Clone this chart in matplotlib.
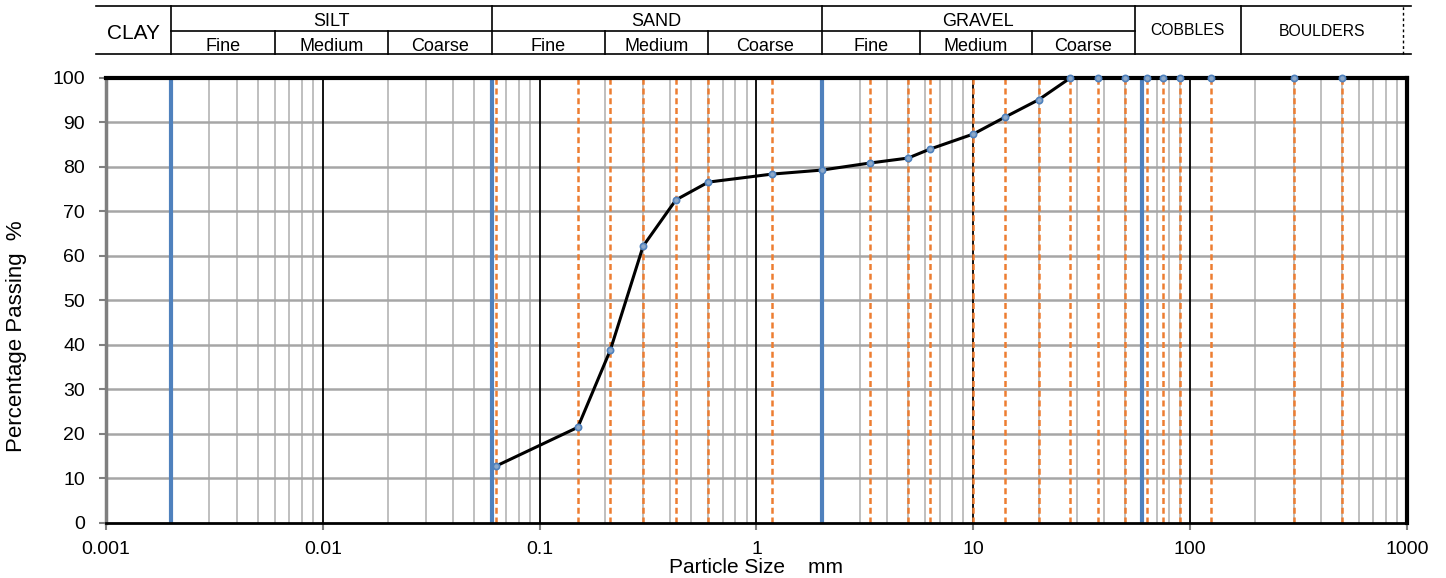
import numpy as np
import matplotlib
matplotlib.use("Agg")
import matplotlib.pyplot as plt
from matplotlib.ticker import FixedLocator, NullFormatter

plt.rcParams["font.family"] = ["Liberation Sans", "DejaVu Sans"]

# tamices (mm) y porcentaje que pasa
sieve = [0.063, 0.15, 0.212, 0.3, 0.425, 0.6, 1.18, 2, 3.35, 5, 6.3, 10, 14, 20,
         28, 37.5, 50, 63, 75, 90, 125, 300, 500]
passing = [12.8, 21.5, 38.9, 62.2, 72.6, 76.6, 78.4, 79.3, 80.9, 82.0, 84.0, 87.4,
           91.2, 95.1, 100, 100, 100, 100, 100, 100, 100, 100, 100]

# limites de clasificacion (lineas azules)
bounds = [0.002, 0.06, 2, 60]
# cabecera: limites tal como aparecen en la tabla
head_main = [0.002, 0.06, 2, 55.6, 171]
head_sub = [0.006, 0.02, 0.2, 0.6, 5.66, 18.6]
main_classes = [("SILT", 0.002, 0.06), ("SAND", 0.06, 2), ("GRAVEL", 2, 55.6)]
sub_names = ["Fine", "Medium", "Coarse"]
xticks = [0.001, 0.01, 0.1, 1, 10, 100, 1000]
xticklabels = ["0.001", "0.01", "0.1", "1", "10", "100", "1000"]

BLUE = "#4F81BD"
ORANGE = "#ED7D31"

fig = plt.figure(figsize=(14.46, 5.78), dpi=100)
ax = fig.add_axes([0.0733, 0.0952, 0.8997, 0.7699])
ax.set_xscale("log")
ax.set_xlim(0.001, 1000)
ax.set_ylim(0, 100)

# rejilla
minor = [m * 10.0**e for e in range(-3, 3) for m in range(2, 10)]
for v in minor:
    ax.axvline(v, color="#BFBFBF", lw=1.4, zorder=1)
for v in xticks[1:-1]:
    ax.axvline(v, color="black", lw=1.3, zorder=1.5)
for v in range(10, 100, 10):
    ax.axhline(v, color="#A6A6A6", lw=1.8, zorder=1.2)

for s in sieve:
    ax.axvline(s, color=ORANGE, lw=1.8, ls=(0, (2.4, 1.5)), zorder=2)
for b in bounds:
    ax.axvline(b, color=BLUE, lw=3, zorder=3)

ax.plot(sieve, passing, color="black", lw=2.2, zorder=6, clip_on=False,
        marker="o", ms=4.5, mfc="#8EA9C9", mec=BLUE, mew=1.2)

ax.xaxis.set_major_locator(FixedLocator(xticks))
ax.set_xticklabels(xticklabels)
ax.xaxis.set_minor_formatter(NullFormatter())
ax.tick_params(axis="x", which="minor", length=0)
ax.set_yticks(range(0, 101, 10))
ax.tick_params(axis="both", which="major", labelsize=14, length=5,
               width=1.5, color="#808080", direction="out")
ax.tick_params(axis="x", which="major", pad=8)
ax.tick_params(axis="y", which="major", pad=10)

for side in ["top", "right"]:
    ax.spines[side].set_linewidth(3)
    ax.spines[side].set_color("black")
ax.spines["bottom"].set_linewidth(2)
ax.spines["bottom"].set_color("black")
ax.spines["left"].set_linewidth(2.5)
ax.spines["left"].set_color("#7F7F7F")
for sp in ax.spines.values():
    sp.set_zorder(5)

ax.set_ylabel("Percentage Passing  %", fontsize=16)
ax.yaxis.set_label_coords(-0.0607, 0.419)
ax.set_xlabel("Particle Size    mm", fontsize=15)
ax.xaxis.set_label_coords(0.5, -0.0787)

# cabecera de clasificacion
hx = fig.add_axes([0.0733, 0.9066, 0.8997, 0.083])
hx.set_xscale("log")
hx.set_xlim(0.001, 1000)
hx.set_ylim(0, 1)
hx.axis("off")
left_edge, right_edge = 0.0009, 1045
kw = dict(color="black", lw=1.2, clip_on=False)
hx.plot([left_edge, right_edge], [1, 1], **kw)
hx.plot([left_edge, right_edge], [0, 0], **kw)
hx.plot([0.002, 55.6], [0.485, 0.485], **kw)
for b in head_main:
    hx.plot([b, b], [0, 1], **kw)
for b in head_sub:
    hx.plot([b, b], [0, 0.485], **kw)
hx.plot([962, 962], [0, 1], color="black", lw=1, ls=(0, (2, 2)), clip_on=False)

gmean = lambda a, b: np.sqrt(a * b)
hx.text(gmean(left_edge, 0.002), 0.42, "CLAY", ha="center", va="center", fontsize=15)
for name, a, b in main_classes:
    hx.text(gmean(a, b), 0.68, name, ha="center", va="center", fontsize=13)
    edges = [a] + [s for s in head_sub if a < s < b] + [b]
    for i, sub in enumerate(sub_names):
        hx.text(gmean(edges[i], edges[i + 1]), 0.15, sub, ha="center",
                va="center", fontsize=13)
hx.text(gmean(55.6, 171), 0.49, "COBBLES", ha="center", va="center", fontsize=11.3)
hx.text(gmean(171, 962), 0.47, "BOULDERS", ha="center", va="center", fontsize=11.3)

fig.savefig("out.png", dpi=100)
